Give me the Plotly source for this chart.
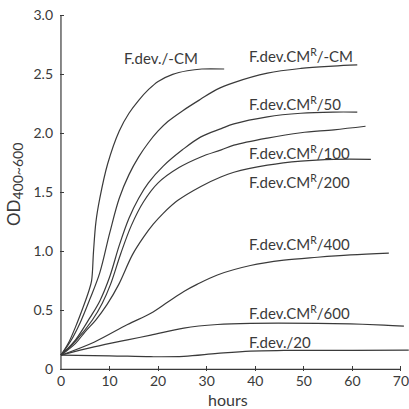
import plotly.graph_objects as go

# ---- data (hours, OD400~600) ----
h_fdev_mcm = [0, 1.5, 3, 4.5, 5.7, 6.3, 6.7, 7.2, 8, 9.6, 12, 14, 16, 18, 20, 23, 26, 29, 33.6]
od_fdev_mcm = [0.12, 0.22, 0.36, 0.52, 0.66, 0.75, 1.0, 1.25, 1.45, 1.74, 2.02, 2.17, 2.28, 2.37, 2.44, 2.5, 2.53, 2.545, 2.545]

h_cmr_mcm = [0, 2, 4, 6, 8, 10, 12, 14, 16, 18, 20, 22, 25, 28.8, 32, 35.6, 42.5, 49.4, 56, 61]
od_cmr_mcm = [0.12, 0.24, 0.4, 0.6, 0.82, 1.15, 1.45, 1.65, 1.8, 1.92, 2.02, 2.1, 2.19, 2.29, 2.37, 2.43, 2.51, 2.55, 2.57, 2.58]

h_cmr_50 = [0, 3, 6, 8, 10, 12, 14, 16, 18, 21, 25, 28.8, 33, 35.6, 42.5, 49.4, 56, 61]
od_cmr_50 = [0.12, 0.25, 0.44, 0.58, 0.78, 1.05, 1.28, 1.45, 1.58, 1.72, 1.86, 1.97, 2.04, 2.08, 2.14, 2.17, 2.18, 2.18]

h_cmr_100 = [0, 3, 6.5, 8.5, 10.2, 12.3, 14.5, 17, 20, 24.3, 28.8, 33, 35.6, 42.5, 49.4, 56.2, 62.7]
od_cmr_100 = [0.12, 0.24, 0.42, 0.56, 0.72, 0.98, 1.22, 1.42, 1.58, 1.71, 1.80, 1.86, 1.90, 1.96, 2.005, 2.03, 2.06]

h_cmr_200 = [0, 3, 5, 7.2, 9.5, 11.9, 14.7, 17, 19, 21, 24, 28.8, 32.9, 35.6, 42.5, 49.4, 56.2, 63.8]
od_cmr_200 = [0.12, 0.22, 0.32, 0.42, 0.55, 0.72, 0.97, 1.12, 1.23, 1.32, 1.43, 1.55, 1.63, 1.67, 1.73, 1.765, 1.78, 1.78]

h_cmr_400 = [0, 6.8, 13.7, 18.5, 22, 25.3, 28, 32.2, 39, 45.9, 52.8, 59.6, 67.5]
od_cmr_400 = [0.12, 0.23, 0.38, 0.475, 0.57, 0.66, 0.72, 0.80, 0.88, 0.925, 0.95, 0.97, 0.985]

h_cmr_600 = [0, 6.8, 13.7, 18.5, 25.3, 32.2, 39, 52.8, 59.6, 66.5, 70.6]
od_cmr_600 = [0.12, 0.19, 0.25, 0.29, 0.35, 0.38, 0.39, 0.39, 0.385, 0.375, 0.367]

h_fdev_20 = [0, 10, 18.5, 25.3, 32.2, 39, 45.9, 60, 71.6]
od_fdev_20 = [0.12, 0.115, 0.107, 0.11, 0.135, 0.155, 0.16, 0.16, 0.163]

series = [
    ("F.dev./-CM", h_fdev_mcm, od_fdev_mcm),
    ("F.dev.CM<sup>R</sup>/-CM", h_cmr_mcm, od_cmr_mcm),
    ("F.dev.CM<sup>R</sup>/50", h_cmr_50, od_cmr_50),
    ("F.dev.CM<sup>R</sup>/100", h_cmr_100, od_cmr_100),
    ("F.dev.CM<sup>R</sup>/200", h_cmr_200, od_cmr_200),
    ("F.dev.CM<sup>R</sup>/400", h_cmr_400, od_cmr_400),
    ("F.dev.CM<sup>R</sup>/600", h_cmr_600, od_cmr_600),
    ("F.dev./20", h_fdev_20, od_fdev_20),
]

# label positions (hours, OD) of the curve names
label_pos = [
    (12.5, 2.64), (38.4, 2.66), (38.4, 2.255), (38.4, 1.84),
    (38.4, 1.59), (38.4, 1.07), (38.4, 0.48), (38.4, 0.23),
]

x_ticks = [0, 10, 20, 30, 40, 50, 60, 70]
y_ticks = [0, 0.5, 1.0, 1.5, 2.0, 2.5, 3.0]
y_ticktext = ["0", "0.5", "1.0", "1.5", "2.0", "2.5", "3.0"]

INK = "#3a3a3a"
FONT = "Lato"

fig = go.Figure()
for name, h, od in series:
    fig.add_trace(go.Scatter(x=h, y=od, mode="lines", name=name,
                             line=dict(color=INK, width=1.2, shape="spline", smoothing=1.0),
                             showlegend=False, hoverinfo="skip"))

for (name, _, _), (lx, ly) in zip(series, label_pos):
    fig.add_annotation(x=lx, y=ly, text=name, showarrow=False, xanchor="left",
                       yanchor="middle", font=dict(family=FONT, size=15, color=INK))

# axis lines
fig.add_shape(type="line", x0=0, x1=0, y0=0, y1=3.0, xref="x", yref="y",
              line=dict(color=INK, width=1.2))
fig.add_shape(type="line", x0=0, x1=70, y0=0, y1=0, xref="x", yref="y",
              line=dict(color=INK, width=1.2))

fig.add_annotation(text="hours", x=34.3, xref="x", y=-0.078, yref="paper",
                   xanchor="center", yanchor="middle",
                   showarrow=False, font=dict(family=FONT, size=16, color=INK))
fig.add_annotation(text="OD<sub><span style='font-size:14px'>400~600</span></sub>",
                   x=-0.129, xref="paper", y=1.57, yref="y",
                   xanchor="center", yanchor="middle",
                   textangle=-90, showarrow=False,
                   font=dict(family=FONT, size=17, color=INK))

fig.update_layout(
    width=409, height=409,
    margin=dict(l=60, r=0, t=10, b=38),
    paper_bgcolor="white", plot_bgcolor="white",
    xaxis=dict(range=[-0.2, 71.65], tickvals=x_ticks, ticks="inside", ticklen=5,
               tickcolor=INK, showgrid=False, zeroline=False, showline=False,
               ticklabeloverflow="allow",
               tickfont=dict(family=FONT, size=14, color=INK)),
    yaxis=dict(range=[-0.014, 3.045], tickvals=y_ticks, ticktext=y_ticktext,
               ticks="inside", ticklen=4, tickcolor=INK, showgrid=False,
               zeroline=False, showline=False, ticklabelstandoff=6,
               tickfont=dict(family=FONT, size=14, color=INK)),
)

fig.write_html("out.html")
